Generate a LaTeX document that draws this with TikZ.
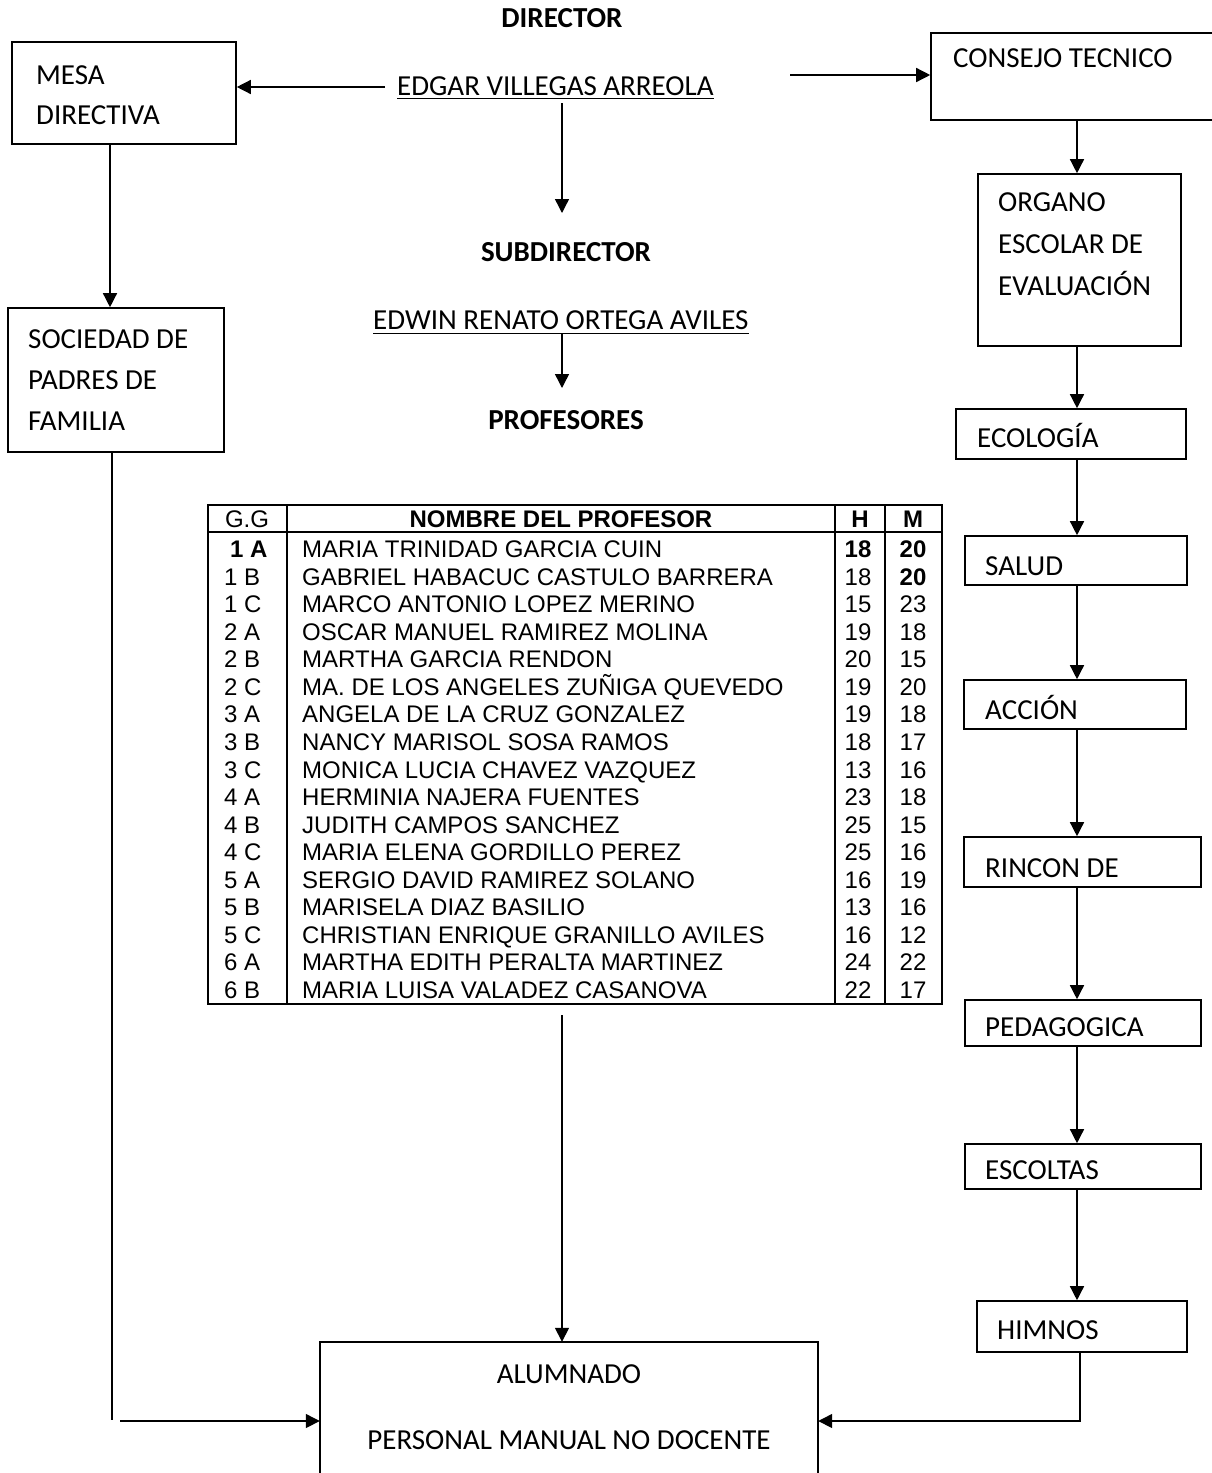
\documentclass[tikz,border=0pt]{standalone}
\usepackage{fontspec}
\setmainfont{Carlito}
\newfontfamily\arialf{Liberation Sans}
\usetikzlibrary{arrows.meta}
\newcommand\cfont{\fontsize{29}{34}\selectfont}
\newcommand\tfont{\arialf\fontsize{24}{28}\selectfont}
\tikzset{
  box/.style={draw, line width=1.6pt, inner sep=0pt, rectangle},
  arr/.style={line width=1.4pt, -{Triangle[length=14pt,width=14pt]}},
  plain/.style={line width=1.4pt},
  lbl/.style={anchor=base west, inner sep=0pt, font=\cfont},
  ttl/.style={anchor=base, inner sep=0pt, font=\cfont\bfseries},
  uname/.style={anchor=base west, inner sep=0pt, font=\cfont},
  ctr/.style={anchor=base, inner sep=0pt, font=\cfont},
  tcell/.style={anchor=base west, inner sep=0pt, font=\tfont},
  tnum/.style={anchor=base, inner sep=0pt, font=\tfont},
  tgrid/.style={line width=1.3pt},
  tframe/.style={line width=1.8pt}
}
\begin{document}
\begin{tikzpicture}[x=1pt,y=-1pt]
\useasboundingbox (0,0) rectangle (1212,1473);

% ---- titles and names
\node[ttl] (director) at (562,27.3) {DIRECTOR};
\node[uname] (edgar) at (397,95.3) {EDGAR VILLEGAS ARREOLA};
\draw[line width=1.3pt] ([yshift=-3pt]edgar.base west) -- ([yshift=-3pt]edgar.base east);
\node[ttl] (subdir) at (566,261.3) {SUBDIRECTOR};
\node[uname] (edwin) at (373,329.3) {EDWIN RENATO ORTEGA AVILES};
\draw[line width=1.3pt] ([yshift=-4pt]edwin.base west) -- ([yshift=-4pt]edwin.base east);
\node[ttl] (profes) at (566,429.3) {PROFESORES};

% ---- left boxes
\node[box, minimum width=224pt, minimum height=102pt] (mesa) at (124,93) {};
\node[lbl] (mesa1) at (36,84.3) {MESA};
\node[lbl] (mesa2) at (36,124.3) {DIRECTIVA};

\node[box, minimum width=216pt, minimum height=144pt] (soc) at (116,380) {};
\node[lbl] (soc1) at (28,348.3) {SOCIEDAD DE};
\node[lbl] (soc2) at (28,389.3) {PADRES DE};
\node[lbl] (soc3) at (28,430.3) {FAMILIA};

% ---- right column boxes
\node[box, minimum width=289pt, minimum height=87pt] (consejo) at (1075.5,76.5) {};
\node[lbl] (consejo1) at (953,67.3) {CONSEJO TECNICO};

\node[box, minimum width=203pt, minimum height=172pt] (organo) at (1079.5,260) {};
\node[lbl] (org1) at (998,211.3) {ORGANO};
\node[lbl] (org2) at (998,253.3) {ESCOLAR DE};
\node[lbl] (org3) at (998,295.3) {EVALUACIÓN};

\node[box, minimum width=230pt, minimum height=50pt] (ecol) at (1071,434) {};
\node[lbl] (ecol1) at (977,447.3) {ECOLOGÍA};

\node[box, minimum width=222pt, minimum height=49pt] (salud) at (1076,560.5) {};
\node[lbl] (salud1) at (985,575.3) {SALUD};

\node[box, minimum width=222pt, minimum height=49pt] (accion) at (1075,704.5) {};
\node[lbl] (accion1) at (985,719.3) {ACCIÓN};

\node[box, minimum width=237pt, minimum height=50pt] (rincon) at (1082.5,862) {};
\node[lbl] (rincon1) at (985,877.3) {RINCON DE};

\node[box, minimum width=236pt, minimum height=46pt] (pedag) at (1083,1023) {};
\node[lbl] (pedag1) at (985,1036.3) {PEDAGOGICA};

\node[box, minimum width=236pt, minimum height=45pt] (escol) at (1083,1166.5) {};
\node[lbl] (escol1) at (985,1179.3) {ESCOLTAS};

\node[box, minimum width=210pt, minimum height=51pt] (himnos) at (1082,1326.5) {};
\node[lbl] (himnos1) at (997,1339.3) {HIMNOS};

% ---- bottom box (open at the bottom)
\node[inner sep=0pt, minimum width=498pt, minimum height=140pt] (alum) at (569,1412) {};
\draw[line width=1.6pt] (alum.south west) -- (alum.north west) -- (alum.north east) -- (alum.south east);
\node[ctr] (alum1) at (569,1383.3) {ALUMNADO};
\node[ctr] (alum2) at (569,1449.3) {PERSONAL MANUAL NO DOCENTE};

% ---- table
\coordinate (tNW) at (208,505);
\coordinate (tSE) at (942,1004);
\draw[tgrid] (208,532) -- (942,532);
\foreach \cx in {287,835,885} \draw[tgrid] (\cx,505) -- (\cx,1004);
\draw[tframe] (tNW) rectangle (tSE);
\node[tnum] (hg) at (247,527.6) {G.G};
\node[tnum, font=\tfont\bfseries] (hn) at (561,527.6) {NOMBRE DEL PROFESOR};
\node[tnum, font=\tfont\bfseries] (hh) at (860,527.6) {H};
\node[tnum, font=\tfont\bfseries] (hm) at (913,527.6) {M};
\node[tcell, font=\tfont\bfseries] (g1) at (230,557.6) {1 A};
\node[tcell] (n1) at (302,557.6) {MARIA TRINIDAD GARCIA CUIN};
\node[tnum, font=\tfont\bfseries] (h1) at (858,557.6) {18};
\node[tnum, font=\tfont\bfseries] (m1) at (913,557.6) {20};
\node[tcell] (g2) at (224,585.15) {1 B};
\node[tcell] (n2) at (302,585.15) {GABRIEL HABACUC CASTULO BARRERA};
\node[tnum] (h2) at (858,585.15) {18};
\node[tnum, font=\tfont\bfseries] (m2) at (913,585.15) {20};
\foreach \g/\n/\h/\m [count=\k from 3] in {
  1 C/MARCO ANTONIO LOPEZ MERINO/15/23,
  2 A/OSCAR MANUEL RAMIREZ MOLINA/19/18,
  2 B/MARTHA GARCIA RENDON/20/15,
  2 C/MA. DE LOS ANGELES ZUÑIGA QUEVEDO/19/20,
  3 A/ANGELA DE LA CRUZ GONZALEZ/19/18,
  3 B/NANCY MARISOL SOSA RAMOS/18/17,
  3 C/MONICA LUCIA CHAVEZ VAZQUEZ/13/16,
  4 A/HERMINIA NAJERA FUENTES/23/18,
  4 B/JUDITH CAMPOS SANCHEZ/25/15,
  4 C/MARIA ELENA GORDILLO PEREZ/25/16,
  5 A/SERGIO DAVID RAMIREZ SOLANO/16/19,
  5 B/MARISELA DIAZ BASILIO/13/16,
  5 C/CHRISTIAN ENRIQUE GRANILLO AVILES/16/12,
  6 A/MARTHA EDITH PERALTA MARTINEZ/24/22,
  6 B/MARIA LUISA VALADEZ CASANOVA/22/17} {
  \pgfmathsetmacro\yb{557.6+(\k-1)*27.55}
  \node[tcell] (g\k) at (224,\yb) {\g};
  \node[tcell] (n\k) at (302,\yb) {\n};
  \node[tnum] (h\k) at (858,\yb) {\h};
  \node[tnum] (m\k) at (913,\yb) {\m};
}

% ---- connectors
\coordinate (eL) at (385,87);
\draw[arr] (eL) -- (mesa.east |- eL);
\coordinate (eR) at (790,75);
\draw[arr] (eR) -- (consejo.west |- eR);
\coordinate (eD) at (562,103);
\coordinate (sT) at (562,213);
\draw[arr] (eD) -- (sT);
\coordinate (wD) at (562,333);
\coordinate (pT) at (562,388);
\draw[arr] (wD) -- (pT);

\coordinate (mx) at (110,0);
\draw[arr] (mesa.south -| mx) -- (soc.north -| mx);
\coordinate (sx) at (112,0);
\coordinate (sB) at (112,1420);
\draw[plain] (soc.south -| sx) -- (sB);
\coordinate (aL) at (120,1421);
\draw[arr] (aL) -- (alum.west |- aL);

\coordinate (tb) at (562,1015);
\draw[arr] (tb) -- (alum.north -| tb);

\coordinate (cx) at (1077,0);
\draw[arr] (consejo.south -| cx) -- (organo.north -| cx);
\draw[arr] (organo.south -| cx) -- (ecol.north -| cx);
\draw[arr] (ecol.south -| cx) -- (salud.north -| cx);
\draw[arr] (salud.south -| cx) -- (accion.north -| cx);
\draw[arr] (accion.south -| cx) -- (rincon.north -| cx);
\draw[arr] (rincon.south -| cx) -- (pedag.north -| cx);
\draw[arr] (pedag.south -| cx) -- (escol.north -| cx);
\draw[arr] (escol.south -| cx) -- (himnos.north -| cx);
\coordinate (hx) at (1080,1421);
\draw[arr] (himnos.south -| hx) -- (hx) -- (alum.east |- hx);
\end{tikzpicture}
\end{document}
